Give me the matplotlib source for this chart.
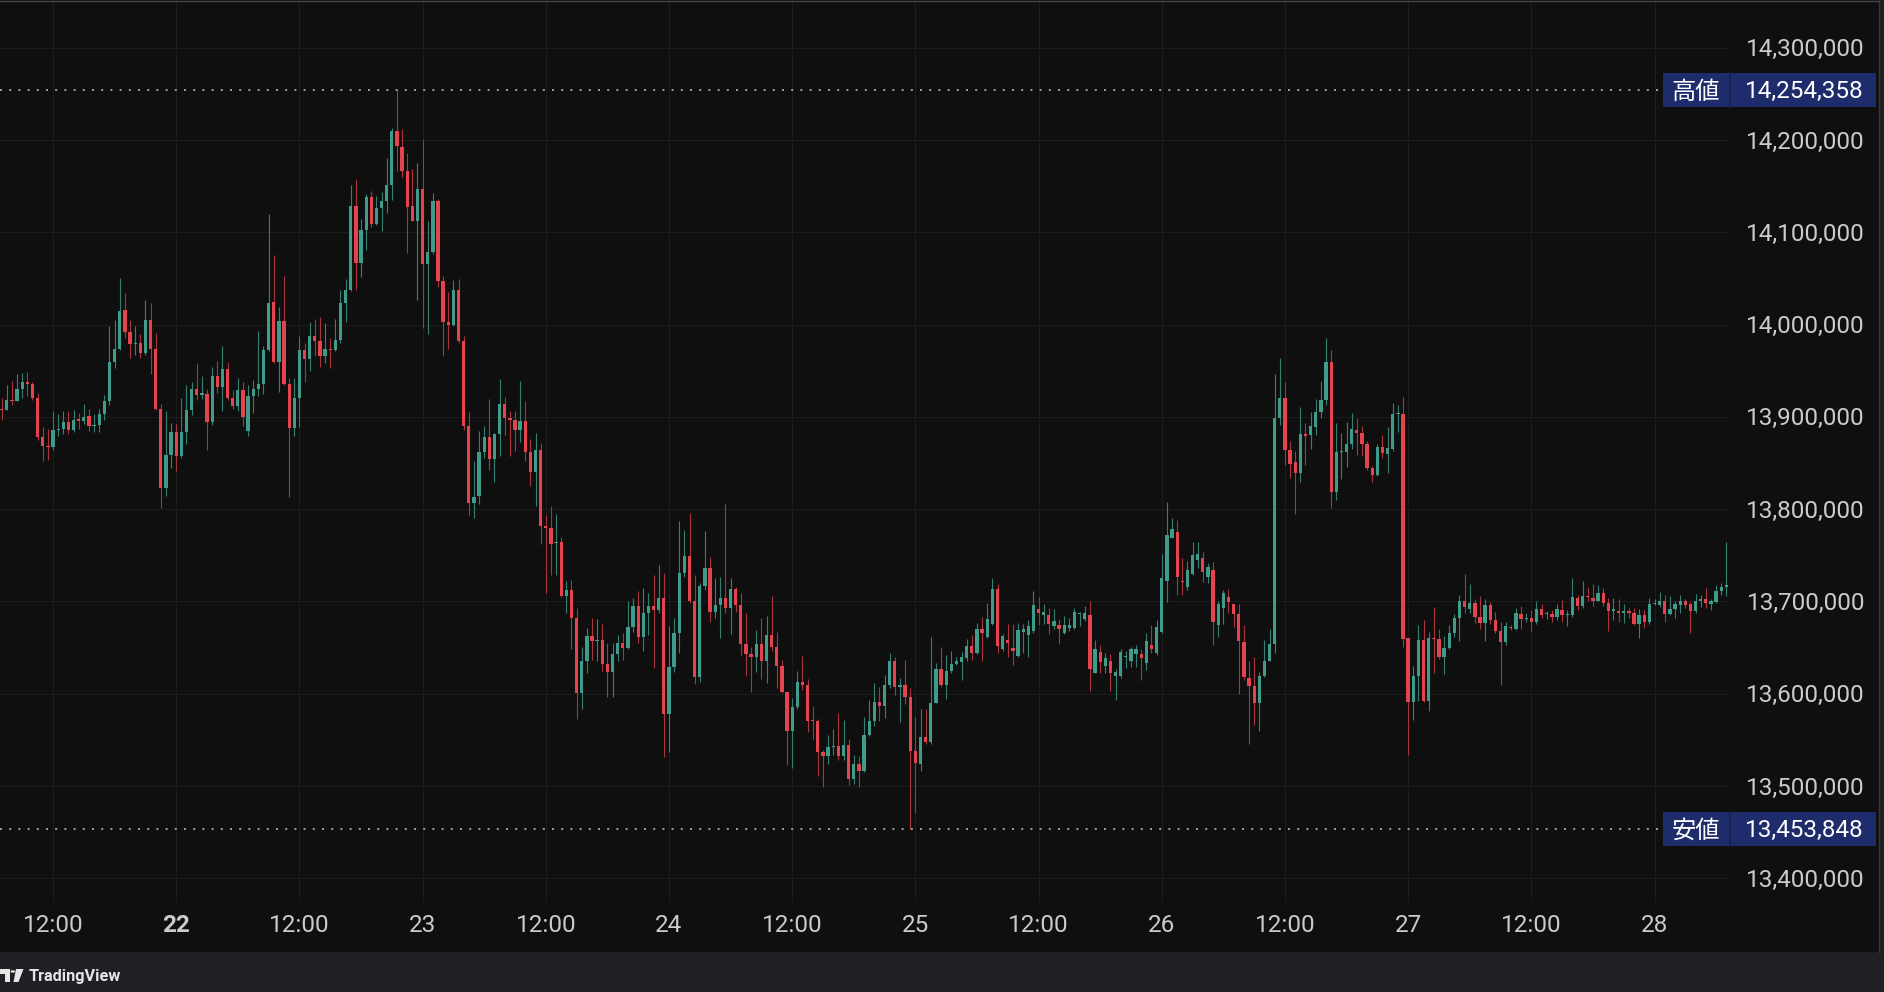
import numpy as np
import matplotlib
matplotlib.use("Agg")
import matplotlib.pyplot as plt
import matplotlib.transforms as mtransforms
from matplotlib.patches import Rectangle, Polygon, Circle
from matplotlib.lines import Line2D

# ---------------- data (30-minute candles, prices in thousands of JPY) ----------------
opens = [
    13909, 13908, 13918, 13917, 13930, 13938, 13936, 13920, 13878, 13869,
    13867, 13886, 13887, 13895, 13886, 13897, 13896, 13901, 13890, 13891,
    13903, 13917, 13959, 13974, 14016, 13992, 13979, 13980, 13969, 14005,
    13974, 13909, 13823, 13859, 13884, 13858, 13884, 13908, 13930, 13924,
    13925, 13894, 13944, 13932, 13952, 13921, 13912, 13929, 13885, 13923,
    13930, 13936, 13972, 14024, 13959, 14004, 13936, 13888, 13921, 13973,
    13963, 13988, 13982, 13966, 13974, 13972, 13983, 14023, 14038, 14129,
    14067, 14103, 14138, 14109, 14126, 14134, 14151, 14210, 14192, 14166,
    14128, 14112, 14147, 14066, 14079, 14134, 14047, 14003, 14000, 14038,
    13982, 13890, 13807, 13814, 13862, 13878, 13854, 13882, 13914, 13899,
    13897, 13886, 13896, 13862, 13840, 13864, 13782, 13780, 13763, 13765,
    13706, 13713, 13682, 13601, 13635, 13663, 13657, 13658, 13632, 13624,
    13643, 13655, 13650, 13672, 13695, 13661, 13687, 13695, 13691, 13704,
    13578, 13629, 13666, 13731, 13749, 13700, 13618, 13717, 13736, 13689,
    13696, 13704, 13693, 13714, 13696, 13654, 13643, 13640, 13654, 13635,
    13664, 13651, 13630, 13602, 13560, 13586, 13613, 13610, 13571, 13570,
    13537, 13533, 13542, 13543, 13533, 13544, 13508, 13524, 13516, 13555,
    13571, 13591, 13587, 13610, 13635, 13607, 13609, 13596, 13538, 13524,
    13553, 13548, 13590, 13627, 13609, 13625, 13632, 13634, 13639, 13652,
    13644, 13670, 13661, 13676, 13714, 13649, 13658, 13650, 13641, 13667,
    13664, 13668, 13692, 13685, 13685, 13673, 13675, 13666, 13671, 13671,
    13686, 13681, 13685, 13623, 13645, 13630, 13635, 13619, 13619, 13640,
    13635, 13643, 13643, 13633, 13653, 13644, 13667, 13722, 13769, 13775,
    13722, 13716, 13730, 13745, 13747, 13727, 13734, 13674, 13693, 13705,
    13697, 13686, 13656, 13617, 13608, 13590, 13619, 13636, 13654, 13899,
    13921, 13864, 13851, 13839, 13882, 13880, 13889, 13905, 13918, 13960,
    13819, 13862, 13862, 13871, 13886, 13883, 13871, 13845, 13837, 13867,
    13860, 13865, 13903, 13903, 13660, 13591, 13619, 13658, 13592, 13660,
    13659, 13640, 13650, 13666, 13682, 13700, 13692, 13698, 13683, 13677,
    13696, 13680, 13668, 13656, 13672, 13670, 13686, 13681, 13682, 13678,
    13692, 13686, 13686, 13683, 13691, 13685, 13685, 13704, 13695, 13706,
    13704, 13701, 13709, 13698, 13690, 13690, 13687, 13690, 13688, 13676,
    13685, 13678, 13697, 13696, 13700, 13686, 13692, 13696, 13700, 13697,
    13690, 13700, 13703, 13697, 13699, 13711, 13716,
]
highs = [
    13920, 13935, 13939, 13947, 13948, 13949, 13938, 13926, 13889, 13887,
    13906, 13903, 13906, 13906, 13908, 13904, 13914, 13909, 13903, 13909,
    13924, 13998, 14005, 14050, 14034, 14005, 13998, 13990, 14027, 14023,
    13991, 13914, 13906, 13893, 13892, 13920, 13935, 13938, 13958, 13944,
    13930, 13954, 13961, 13977, 13960, 13929, 13942, 13938, 13935, 13940,
    13993, 13977, 14120, 14075, 14019, 14053, 13942, 13942, 13988, 13980,
    14003, 14006, 14008, 14002, 13985, 14006, 14038, 14049, 14151, 14158,
    14114, 14141, 14145, 14139, 14144, 14180, 14213, 14254.358, 14212, 14186,
    14169, 14175, 14201, 14112, 14143, 14136, 14053, 14035, 14048, 14049,
    13988, 13905, 13852, 13885, 13890, 13919, 13883, 13941, 13922, 13906,
    13906, 13939, 13917, 13876, 13883, 13872, 13794, 13803, 13795, 13770,
    13722, 13723, 13693, 13651, 13671, 13682, 13681, 13676, 13655, 13655,
    13664, 13666, 13701, 13704, 13711, 13715, 13709, 13729, 13740, 13731,
    13673, 13682, 13787, 13778, 13796, 13729, 13720, 13776, 13748, 13726,
    13727, 13806, 13725, 13716, 13709, 13688, 13651, 13669, 13682, 13684,
    13706, 13667, 13637, 13602, 13595, 13625, 13641, 13616, 13587, 13573,
    13539, 13555, 13562, 13579, 13572, 13551, 13534, 13533, 13575, 13593,
    13612, 13607, 13620, 13644, 13640, 13617, 13637, 13606, 13575, 13584,
    13584, 13661, 13633, 13651, 13642, 13646, 13640, 13645, 13659, 13664,
    13677, 13683, 13698, 13725, 13719, 13665, 13676, 13676, 13677, 13676,
    13680, 13711, 13705, 13697, 13693, 13692, 13681, 13684, 13682, 13693,
    13689, 13695, 13700, 13658, 13653, 13644, 13643, 13627, 13649, 13646,
    13651, 13653, 13649, 13666, 13674, 13680, 13752, 13808, 13791, 13788,
    13747, 13744, 13765, 13764, 13754, 13742, 13743, 13700, 13713, 13714,
    13697, 13697, 13675, 13635, 13640, 13624, 13658, 13670, 13947, 13964,
    13938, 13874, 13863, 13911, 13893, 13905, 13919, 13939, 13986, 13973,
    13893, 13883, 13894, 13904, 13899, 13890, 13874, 13847, 13871, 13880,
    13889, 13915, 13913, 13922, 13660, 13630, 13674, 13680, 13667, 13694,
    13670, 13663, 13675, 13686, 13707, 13730, 13719, 13703, 13706, 13703,
    13699, 13689, 13678, 13678, 13675, 13693, 13695, 13688, 13691, 13701,
    13697, 13690, 13691, 13697, 13702, 13691, 13725, 13707, 13722, 13716,
    13719, 13718, 13715, 13704, 13704, 13703, 13697, 13693, 13693, 13692,
    13691, 13704, 13703, 13710, 13707, 13706, 13700, 13707, 13703, 13699,
    13708, 13707, 13715, 13703, 13718, 13720, 13765,
]
lows = [
    13897, 13907, 13913, 13917, 13920, 13923, 13918, 13875, 13852, 13853,
    13864, 13879, 13882, 13882, 13884, 13887, 13892, 13885, 13884, 13884,
    13897, 13913, 13953, 13973, 13985, 13964, 13967, 13964, 13967, 13947,
    13908, 13801, 13814, 13845, 13841, 13856, 13871, 13902, 13918, 13919,
    13864, 13891, 13926, 13906, 13918, 13909, 13906, 13890, 13879, 13904,
    13923, 13925, 13971, 13958, 13927, 13935, 13813, 13879, 13889, 13938,
    13950, 13966, 13954, 13958, 13953, 13971, 13980, 14003, 14036, 14037,
    14052, 14081, 14106, 14108, 14101, 14121, 14135, 14166, 14160, 14078,
    14112, 14027, 13996, 13990, 14077, 14041, 13966, 13974, 13999, 13980,
    13886, 13794, 13790, 13806, 13856, 13843, 13829, 13858, 13880, 13858,
    13863, 13873, 13852, 13825, 13804, 13762, 13709, 13729, 13729, 13705,
    13687, 13649, 13573, 13583, 13622, 13637, 13635, 13625, 13597, 13597,
    13635, 13637, 13649, 13667, 13655, 13646, 13664, 13628, 13687, 13532,
    13537, 13624, 13644, 13727, 13698, 13611, 13613, 13713, 13678, 13682,
    13660, 13688, 13665, 13689, 13642, 13619, 13602, 13624, 13616, 13612,
    13646, 13606, 13601, 13523, 13520, 13584, 13604, 13559, 13551, 13511,
    13499, 13524, 13534, 13528, 13528, 13501, 13502, 13499, 13515, 13554,
    13565, 13571, 13574, 13606, 13599, 13569, 13589, 13453.848, 13471, 13516,
    13546, 13546, 13590, 13607, 13594, 13622, 13631, 13615, 13635, 13637,
    13643, 13636, 13660, 13675, 13644, 13646, 13640, 13631, 13640, 13644,
    13640, 13666, 13674, 13676, 13665, 13670, 13654, 13665, 13668, 13670,
    13673, 13679, 13603, 13622, 13622, 13622, 13603, 13593, 13617, 13628,
    13629, 13629, 13615, 13626, 13644, 13642, 13666, 13699, 13769, 13707,
    13707, 13713, 13729, 13736, 13721, 13720, 13653, 13661, 13676, 13688,
    13672, 13600, 13615, 13546, 13566, 13560, 13618, 13635, 13644, 13891,
    13848, 13834, 13795, 13830, 13848, 13865, 13880, 13899, 13913, 13801,
    13810, 13833, 13846, 13865, 13859, 13858, 13843, 13830, 13836, 13855,
    13839, 13863, 13884, 13651, 13534, 13572, 13592, 13591, 13581, 13622,
    13638, 13621, 13648, 13662, 13657, 13688, 13688, 13677, 13670, 13657,
    13676, 13666, 13610, 13653, 13669, 13669, 13670, 13678, 13668, 13676,
    13682, 13681, 13678, 13680, 13678, 13673, 13683, 13691, 13693, 13700,
    13695, 13700, 13695, 13668, 13680, 13678, 13677, 13682, 13675, 13660,
    13671, 13676, 13696, 13694, 13678, 13685, 13682, 13688, 13693, 13666,
    13688, 13694, 13693, 13691, 13698, 13707, 13706,
]
closes = [
    13907, 13918, 13917, 13930, 13938, 13936, 13920, 13878, 13869, 13867,
    13886, 13887, 13894, 13886, 13897, 13896, 13900, 13890, 13891, 13903,
    13917, 13959, 13974, 14015, 13992, 13979, 13980, 13969, 14005, 13974,
    13909, 13823, 13859, 13884, 13858, 13884, 13908, 13930, 13924, 13925,
    13894, 13944, 13932, 13952, 13921, 13912, 13929, 13900, 13923, 13930,
    13936, 13973, 14023, 13959, 14004, 13936, 13888, 13921, 13973, 13963,
    13988, 13982, 13966, 13974, 13972, 13983, 14023, 14038, 14129, 14067,
    14103, 14138, 14109, 14126, 14134, 14151, 14210, 14193, 14166, 14127,
    14112, 14147, 14066, 14079, 14134, 14047, 14003, 14000, 14038, 13982,
    13890, 13807, 13813, 13862, 13878, 13854, 13882, 13914, 13899, 13897,
    13886, 13896, 13862, 13840, 13864, 13782, 13780, 13762, 13765, 13706,
    13713, 13682, 13601, 13635, 13663, 13657, 13658, 13632, 13624, 13643,
    13655, 13650, 13672, 13695, 13661, 13687, 13695, 13691, 13704, 13578,
    13629, 13666, 13731, 13749, 13700, 13618, 13717, 13736, 13689, 13696,
    13704, 13693, 13714, 13696, 13654, 13643, 13640, 13654, 13635, 13664,
    13651, 13630, 13602, 13560, 13586, 13613, 13610, 13571, 13570, 13537,
    13533, 13542, 13542, 13533, 13544, 13508, 13524, 13516, 13555, 13571,
    13591, 13587, 13610, 13635, 13607, 13609, 13596, 13538, 13525, 13553,
    13548, 13590, 13627, 13609, 13625, 13632, 13636, 13640, 13652, 13644,
    13670, 13666, 13681, 13714, 13652, 13663, 13655, 13646, 13669, 13670,
    13673, 13696, 13688, 13689, 13676, 13679, 13670, 13675, 13675, 13689,
    13686, 13688, 13627, 13649, 13634, 13639, 13622, 13624, 13645, 13640,
    13648, 13648, 13639, 13657, 13648, 13672, 13726, 13772, 13779, 13727,
    13721, 13734, 13750, 13752, 13732, 13737, 13678, 13697, 13709, 13699,
    13686, 13657, 13618, 13608, 13590, 13619, 13636, 13654, 13899, 13921,
    13864, 13849, 13839, 13882, 13879, 13890, 13905, 13918, 13960, 13819,
    13862, 13863, 13871, 13887, 13883, 13871, 13845, 13837, 13867, 13861,
    13866, 13903, 13903, 13659, 13591, 13619, 13658, 13592, 13660, 13659,
    13640, 13650, 13666, 13682, 13700, 13694, 13698, 13683, 13677, 13696,
    13680, 13668, 13656, 13673, 13671, 13687, 13681, 13682, 13678, 13692,
    13685, 13686, 13683, 13692, 13685, 13685, 13705, 13695, 13706, 13705,
    13701, 13709, 13698, 13690, 13690, 13687, 13690, 13688, 13676, 13685,
    13678, 13697, 13697, 13700, 13686, 13692, 13697, 13700, 13696, 13690,
    13700, 13703, 13698, 13700, 13711, 13716, 13717,
]
PRICE_UNIT = 1000  # values above are in thousands of yen

# time axis: candle index of each tick (first candle = 21st 07:00, 30-minute bars)
xtick_index = [10, 34, 58, 82, 106, 130, 154, 178, 202, 226, 250, 274, 298, 322]
xtick_labels = ["12:00", "22", "12:00", "23", "12:00", "24", "12:00",
                "25", "12:00", "26", "12:00", "27", "12:00", "28"]
xtick_bold = ["22"]
ytick_values = [13400000, 13500000, 13600000, 13700000, 13800000,
                13900000, 14000000, 14100000, 14200000, 14300000]
high_label = "高値"
low_label = "安値"
brand_label = "TradingView"

# ---------------- styling ----------------
W, H, DPI = 1884, 992, 100
BG = "#0f0f0f"
STRIP = "#1f2023"
GRID = "#1c1c1c"
TEXT = "#cbcbcb"
UP, DN = "#3f9c8b", "#e5444e"
UP_WICK, DN_WICK = "#367f73", "#a8353c"
DOT = "#9a9a9a"
BOX = "#1e2c6b"
BOX_SEP = "#16204f"
NUM_FONT = ["Roboto", "DejaVu Sans"]
CJK_FONT = ["Noto Sans CJK JP", "DejaVu Sans"]
FS = 17.5
TXT_DY = 2.0  # px: nudge text down so digit centres sit on the value

PLOT_R, PLOT_B = 1730, 902          # plot area right/bottom edge (px)
X0, STEP = 1.7, 5.133               # px position of first candle, px per candle
Y_TOP, Y_BOT = 14351680, 13374430   # price at top / bottom of plot area


def fx(px):
    return px / W


def fy(py):
    return 1 - py / H


fig = plt.figure(figsize=(W / DPI, H / DPI), dpi=DPI, facecolor=BG)

# outer strips (bottom bar and right edge)
fig.add_artist(Rectangle((0, 0), 1, fy(952), transform=fig.transFigure,
                         facecolor=STRIP, edgecolor="none", zorder=0))
fig.add_artist(Rectangle((fx(1879), 0), 1 - fx(1879), 1, transform=fig.transFigure,
                         facecolor=STRIP, edgecolor="none", zorder=0))
fig.add_artist(Line2D([0, fx(1878.5)], [fy(0.5), fy(0.5)], transform=fig.transFigure,
                      color="#4a4a4a", lw=0.9))
fig.add_artist(Line2D([fx(1878.5), fx(1878.5)], [fy(0), fy(952)], transform=fig.transFigure,
                      color="#3a3a3a", lw=0.9))

ax = fig.add_axes([0, fy(PLOT_B), fx(PLOT_R), PLOT_B / H])
ax.set_facecolor(BG)
for s in ax.spines.values():
    s.set_visible(False)
ax.set_xticks([])
ax.set_yticks([])
ax.set_xlim(-X0 / STEP, (PLOT_R - X0) / STEP)
ax.set_ylim(Y_BOT, Y_TOP)

# grid
for v in ytick_values:
    ax.axhline(v, color=GRID, lw=0.8, zorder=0)
for i in xtick_index:
    ax.axvline(i, color=GRID, lw=0.8, zorder=0)

# candles
o = np.array(opens, dtype=float) * PRICE_UNIT
h = np.array(highs, dtype=float) * PRICE_UNIT
l = np.array(lows, dtype=float) * PRICE_UNIT
c = np.array(closes, dtype=float) * PRICE_UNIT
idx = np.arange(len(o))
up = c >= o
ypp = (Y_TOP - Y_BOT) / PLOT_B  # yen per pixel
wick_cols = [UP_WICK if u else DN_WICK for u in up]
body_cols = [UP if u else DN for u in up]
ax.vlines(idx, np.minimum(l, np.minimum(o, c)), np.maximum(h, np.maximum(o, c)),
          colors=wick_cols, linewidth=0.8, zorder=2)
body_lo = np.minimum(o, c)
body_h = np.maximum(np.abs(c - o), 1.3 * ypp)
ax.bar(idx, body_h, bottom=body_lo, width=0.64, color=body_cols, linewidth=0, zorder=3)

# y-axis price labels
for v in ytick_values:
    ypx = (Y_TOP - v) / ypp
    fig.text(fx(1865), fy(ypx + TXT_DY), f"{v:,}", ha="right", va="center",
             fontsize=FS, color=TEXT, family=NUM_FONT)

# x-axis time labels
for i, lab in zip(xtick_index, xtick_labels):
    fig.text(fx(X0 + STEP * i), fy(924 + TXT_DY), lab, ha="center", va="center",
             fontsize=FS, color=TEXT, family=NUM_FONT,
             fontweight="bold" if lab in xtick_bold else "normal")

# high / low markers
hi = h.max()
lo = l.min()
tr = mtransforms.blended_transform_factory(ax.transAxes, ax.transData)
for val, lab in [(hi, high_label), (lo, low_label)]:
    ax.plot([0, 1662 / PLOT_R], [val, val], transform=tr, color=DOT, lw=1.44,
            dashes=[1, 3.6], dash_capstyle="butt", zorder=4)
    ypx = (Y_TOP - val) / ypp
    fig.add_artist(Rectangle((fx(1663), fy(ypx + 17)), fx(1876) - fx(1663), 34 / H,
                             transform=fig.transFigure, facecolor=BOX,
                             edgecolor="none", zorder=5))
    fig.add_artist(Line2D([fx(1729.5), fx(1729.5)], [fy(ypx + 17), fy(ypx - 17)],
                          transform=fig.transFigure, color=BOX_SEP, lw=1.2, zorder=6))
    fig.text(fx(1696), fy(ypx + TXT_DY), lab, ha="center", va="center", fontsize=FS,
             color="white", family=CJK_FONT, zorder=7)
    fig.text(fx(1864), fy(ypx + TXT_DY), f"{int(round(val)):,}", ha="right", va="center",
             fontsize=FS, color="white", family=NUM_FONT, zorder=7)

# brand logo (bottom-left)
logo_col = "#e6e6e6"
fig.add_artist(Polygon([(fx(0), fy(969)), (fx(10), fy(969)), (fx(10), fy(982)),
                        (fx(5), fy(982)), (fx(5), fy(973.5)), (fx(0), fy(973.5))],
                       closed=True, transform=fig.transFigure, facecolor=logo_col,
                       edgecolor="none"))
fig.add_artist(Circle((fx(12.8), fy(971.5)), 2.3 / W, transform=fig.transFigure,
                      facecolor=logo_col, edgecolor="none"))
fig.add_artist(Polygon([(fx(16), fy(969)), (fx(23.5), fy(969)), (fx(18.5), fy(982)),
                        (fx(13.5), fy(982))], closed=True, transform=fig.transFigure,
                       facecolor=logo_col, edgecolor="none"))
fig.text(fx(29), fy(976), brand_label, ha="left", va="center", fontsize=11.7,
         fontweight="bold", color=logo_col, family=NUM_FONT)

fig.savefig("out.png", dpi=DPI, facecolor=fig.get_facecolor())
